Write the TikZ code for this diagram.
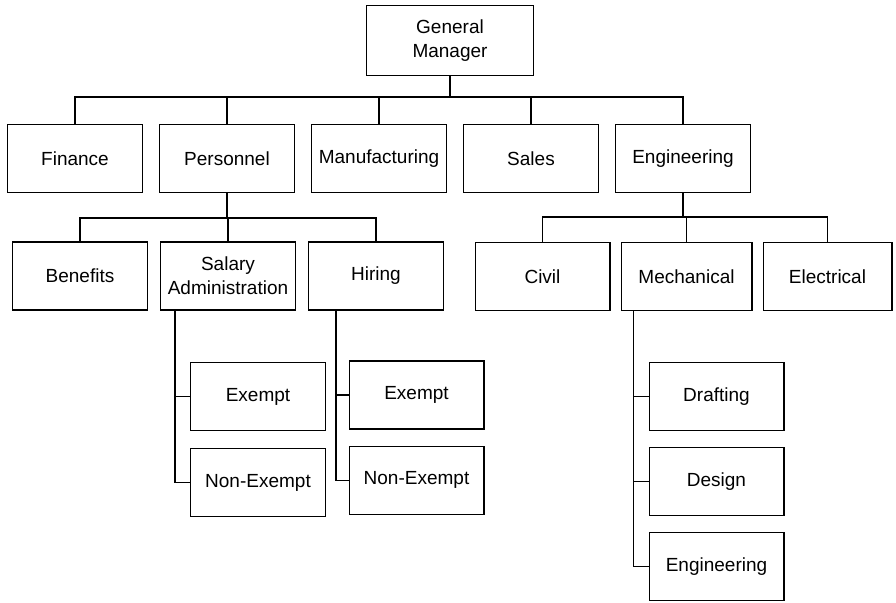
\documentclass[tikz,border=0pt]{standalone}
\usepackage{fontspec}
\setmainfont{Liberation Sans}
\usetikzlibrary{positioning}

\begin{document}
\begin{tikzpicture}[
        x=0.5pt, y=-0.5pt,
        node distance=8pt and 8pt,
        box/.style={draw, line width=0.6pt, align=center, minimum width=67.4pt, minimum height=34pt, inner sep=1pt, font=\fontsize{9.5}{12}\selectfont},
        line/.style={draw, line width=0.6pt}
    ]
    \useasboundingbox (0,0) rectangle (896,603);

    % Geschaeftsleitung
    \node (gm) [box, minimum width=83.4pt, minimum height=35pt] at (450,40.5) {General\\Manager};

    % Abteilungen
    \node (finance) [box] at (75,158.5) {Finance};
    \node (personnel) [box, right=of finance] {Personnel};
    \node (manufacturing) [box, right=of personnel] {Manufacturing};
    \node (sales) [box, right=of manufacturing] {Sales};
    \node (engineering) [box, right=of sales] {Engineering};

    % Personal
    \node (benefits) [box] at (80,276) {Benefits};
    \node (salary) [box, right=6pt of benefits] {Salary\\Administration};
    \node (hiring) [box, right=6pt of salary] {Hiring};

    \node (salexempt) [box] at (258,396.5) {Exempt};
    \node (salnonexempt) [box, below=8.5pt of salexempt] {Non-Exempt};
    \node (hirexempt) [box] at (416.5,395) {Exempt};
    \node (hirnonexempt) [box, below=8pt of hirexempt] {Non-Exempt};

    % Technik
    \node (civil) [box] at (542.5,276.5) {Civil};
    \node (mechanical) [box, right=5pt of civil, minimum width=65.4pt] {Mechanical};
    \node (electrical) [box, right=5pt of mechanical, minimum width=64.4pt] {Electrical};

    \node (drafting) [box] at (716.5,396.5) {Drafting};
    \node (design) [box, below=8pt of drafting] {Design};
    \node (mecheng) [box, below=8pt of design] {Engineering};

    % Verbindungen
    \foreach \n in {finance, personnel, manufacturing, sales, engineering}
        \draw[line] (gm.south) -- ++(0,21) -| (\n.north);
    \foreach \n in {benefits, salary, hiring}
        \draw[line] (personnel.south) -- ++(0,25) -| (\n.north);
    \foreach \n in {civil, mechanical, electrical}
        \draw[line] (engineering.south) -- ++(0,24) -| (\n.north);

    \draw[line] ([xshift=7.5pt]salary.south west) |- (salexempt.west);
    \draw[line] ([xshift=7.5pt]salary.south west) |- (salnonexempt.west);
    \draw[line] ([xshift=14pt]hiring.south west) |- (hirexempt.west);
    \draw[line] ([xshift=14pt]hiring.south west) |- (hirnonexempt.west);
    \foreach \n in {drafting, design, mecheng}
        \draw[line] ([xshift=6.5pt]mechanical.south west) |- (\n.west);

\end{tikzpicture}
\end{document}
